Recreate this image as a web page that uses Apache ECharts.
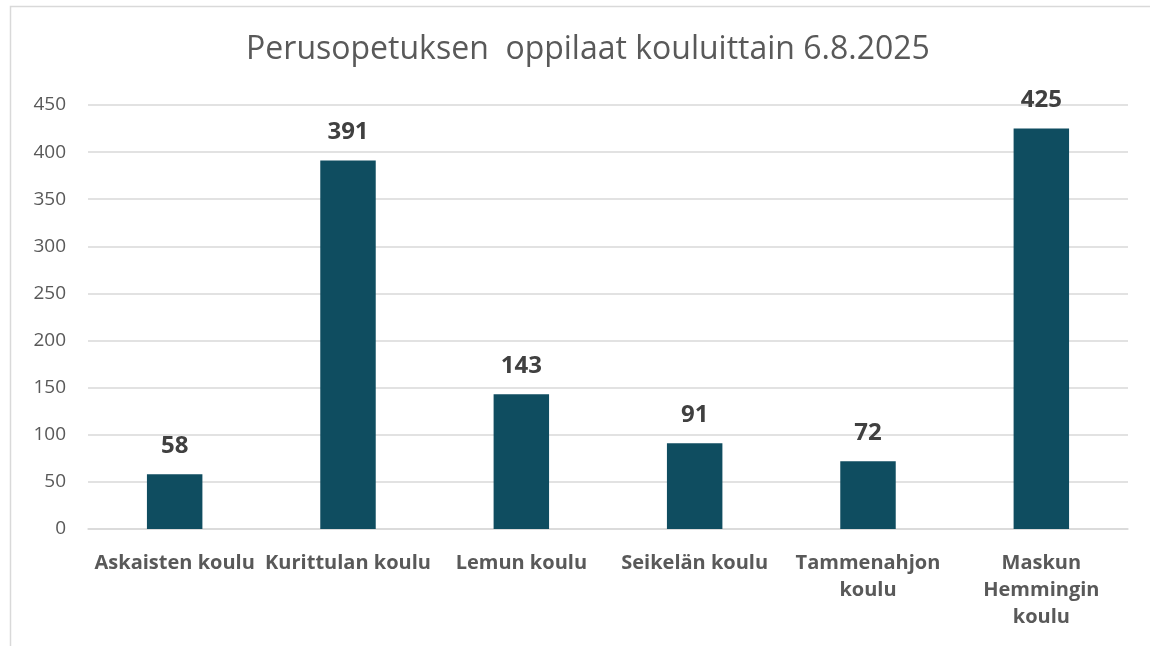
<!DOCTYPE html>
<html lang="fi">
<head>
    <meta charset="UTF-8">
    <title>Perusopetuksen oppilaat</title>
    <script src="https://cdn.jsdelivr.net/npm/echarts@6/dist/echarts.min.js"></script>
    <style>
        html, body { margin: 0; padding: 0; background: #fff; }
        #main { width: 1150px; height: 646px; }
    </style>
</head>
<body>
<div id="main"></div>
<script type="text/javascript">
var schools = ['Askaisten koulu', 'Kurittulan koulu', 'Lemun koulu', 'Seikelän koulu',
    'Tammenahjon\nkoulu', 'Maskun\nHemmingin\nkoulu'];
var pupils = [58, 391, 143, 91, 72, 425];
var yTicks = [0, 50, 100, 150, 200, 250, 300, 350, 400, 450];

var font = '"Open Sans", "Noto Sans", sans-serif';
var chart = echarts.init(document.getElementById('main'));
var option = {
    animation: false,
    graphic: [{
        type: 'rect',
        shape: { x: 10.5, y: 6.5, width: 1160, height: 700 },
        style: { fill: 'none', stroke: '#d9d9d9', lineWidth: 1.5 }
    }],
    title: {
        text: 'Perusopetuksen  oppilaat kouluittain 6.8.2025',
        left: 583,
        textAlign: 'center',
        top: 29,
        textStyle: { fontFamily: font, fontSize: 32, fontWeight: 'normal', color: '#595959' }
    },
    grid: { left: 88, right: 22, top: 105, bottom: 117 },
    xAxis: {
        type: 'category',
        data: schools,
        axisLine: { lineStyle: { color: '#d9d9d9', width: 1.5 } },
        axisTick: { show: false },
        axisLabel: {
            margin: 21,
            interval: 0,
            fontFamily: font,
            fontSize: 20,
            fontWeight: 'bold',
            color: '#595959',
            lineHeight: 27
        }
    },
    yAxis: {
        type: 'value',
        min: yTicks[0],
        max: yTicks[yTicks.length - 1],
        interval: 50,
        axisLine: { show: false },
        axisTick: { show: false },
        splitLine: { lineStyle: { color: '#d9d9d9', width: 1.5 } },
        axisLabel: { margin: 22, fontFamily: font, fontSize: 19, color: '#595959' }
    },
    series: [{
        type: 'bar',
        data: pupils,
        barWidth: '32%',
        itemStyle: { color: '#0f4d60' },
        label: {
            show: true,
            position: 'top',
            distance: 16,
            fontFamily: font,
            fontSize: 24,
            fontWeight: 'bold',
            color: '#404040'
        }
    }]
};
chart.setOption(option);
</script>
</body>
</html>
